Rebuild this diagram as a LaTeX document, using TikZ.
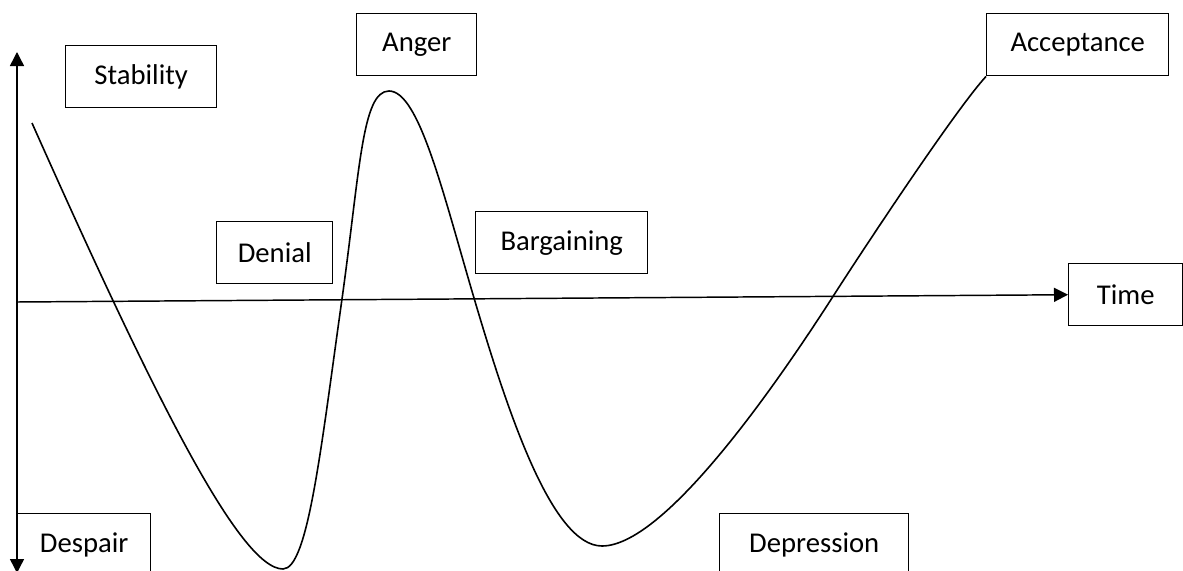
\documentclass[tikz,border=0pt]{standalone}
\usepackage{fontspec}
\setmainfont{Carlito}
\usetikzlibrary{positioning, arrows.meta}

\begin{document}
\begin{tikzpicture}[
    x=0.75pt, y=-0.75pt,
    stage box/.style={
        draw=black, fill=white, rectangle, line width=1.1pt,
        minimum width=#1, minimum height=46.5pt, inner sep=0pt,
        anchor=north west, font=\fontsize{21.5}{26}\selectfont
    },
    axis tip/.tip={Triangle[length=10.5pt, width=10.5pt]},
    axis/.style={line width=1.1pt},
    curve/.style={line width=1.2pt}
]

% marco de la figura (recortado como en el original)
\clip (0,0) rectangle (1183,571);

% ------------------------------------------------------------------------------
% 1. ETAPAS
% ------------------------------------------------------------------------------
\node[stage box=113.25pt] (stab) at (65,45) {Stability};
\node[stage box=90pt] (anger) at (356,13) {Anger};
\node[stage box=136.5pt] (accept) at (986,13) {Acceptance};
\node[stage box=87pt] (denial) at (216,221) {Denial};
\node[stage box=129pt] (barg) at (475,211) {Bargaining};
\node[stage box=85.5pt] (time) at (1068,263) {Time};
\node[stage box=99.75pt] (despair) at (17,513) {Despair};
\node[stage box=141.75pt] (depr) at (719,513) {Depression};

% ------------------------------------------------------------------------------
% 2. EJES
% ------------------------------------------------------------------------------
\coordinate (ytop) at (17,52);
\coordinate (ybot) at (17,573);
\coordinate (origin) at (17,302);

\draw[axis, {axis tip}-{axis tip}] (ybot) -- (ytop);
\draw[axis, -{axis tip}] (origin) -- (time.west);

% ------------------------------------------------------------------------------
% 3. CURVA (estabilidad -> aceptación)
% ------------------------------------------------------------------------------
\coordinate (start) at (32,123);
\draw[curve] (start)
    .. controls (154,397) and (240,569) .. (283,569)    % desesperación
    .. controls (308,569) and (321,448) .. (342,299)
    .. controls (360,170) and (362,91) .. (389,91)      % ira
    .. controls (419,91) and (443,193) .. (474,298)
    .. controls (508,413) and (552,546) .. (602,546)    % depresión
    .. controls (662,546) and (767,399) .. (832,298)
    .. controls (864,248) and (956,109) .. (accept.south west);

\end{tikzpicture}
\end{document}
